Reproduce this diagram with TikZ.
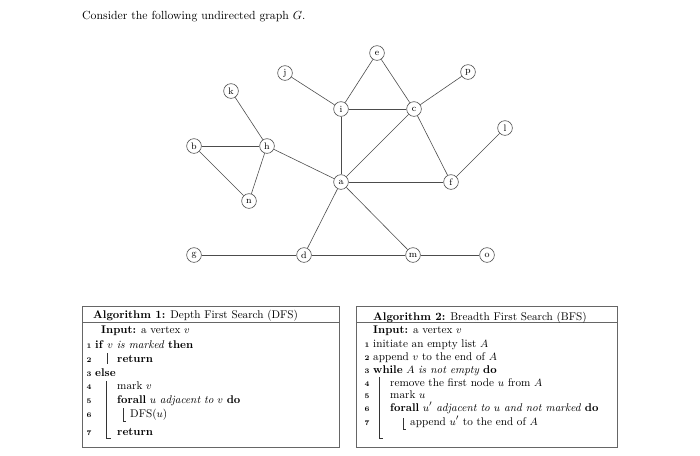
\documentclass[tikz,border=0pt]{standalone}
\usepackage{amsmath}
\begin{document}
\begin{tikzpicture}[x={(0.85pt,0)},y={(0,-0.85pt)},
  vert/.style={circle,draw=black!70,line width=0.5pt,inner sep=0pt,minimum size=12.5pt,font=\footnotesize},
  edge/.style={draw=black!70,line width=0.5pt},
  txt/.style={inner sep=0pt,anchor=base west,font=\normalsize},
  atxt/.style={inner sep=0pt,anchor=base west,font=\fontsize{9.5}{11}\selectfont},
  num/.style={inner sep=0pt,anchor=base,font=\fontsize{6}{7}\selectfont\bfseries},
  algbox/.style={draw=black!60,line width=0.6pt},
  bar/.style={draw=black!80,line width=0.4pt}]
\useasboundingbox (0,0) rectangle (700,455);
% title
\node[txt] (title) at (82,19) {Consider the following undirected graph $G$.};
% vertices
\node[vert] (e) at (377,53) {e};
\node[vert] (j) at (285,73) {j};
\node[vert] (p) at (468,72) {p};
\node[vert] (k) at (231,91) {k};
\node[vert] (i) at (341,109) {i};
\node[vert] (c) at (414,109) {c};
\node[vert] (l) at (505,128) {l};
\node[vert] (b) at (194,146) {b};
\node[vert] (h) at (267,146) {h};
\node[vert] (a) at (341,182) {a};
\node[vert] (f) at (451,182) {f};
\node[vert] (n) at (249,201) {n};
\node[vert] (g) at (194,255) {g};
\node[vert] (d) at (304,255) {d};
\node[vert] (m) at (413,255) {m};
\node[vert] (o) at (487,255) {o};
% edges
\foreach \u/\v in {j/i,k/h,b/h,b/n,h/n,h/a,i/a,i/e,i/c,e/c,c/p,c/a,c/f,a/f,f/l,a/d,a/m,g/d,d/m,m/o}
  \draw[edge] (\u) -- (\v);
% algorithm 1 box
\draw[algbox] (82,306) rectangle (339,447);
\coordinate (s1a) at (82,322);
\coordinate (s1b) at (339,322);
\draw[algbox] (s1a) -- (s1b);
\node[atxt] (h1) at (93,318) {\textbf{Algorithm 1:} Depth First Search (DFS)};
\node[atxt] (in1) at (101,333) {\textbf{Input:} a vertex $v$};
\node[num] (n11) at (89,348) {1};
\node[atxt] (l11) at (95,348) {\textbf{if} $v$ \textit{is marked} \textbf{then}};
\node[num] (n12) at (89,362) {2};
\node[atxt] (l12) at (117,362) {\textbf{return}};
\node[num] (n13) at (89,376) {3};
\node[atxt] (l13) at (95,376) {\textbf{else}};
\node[num] (n14) at (89,389) {4};
\node[atxt] (l14) at (117,389) {mark $v$};
\node[num] (n15) at (89,403) {5};
\node[atxt] (l15) at (117,403) {\textbf{forall} $u$ \textit{adjacent to} $v$ \textbf{do}};
\node[num] (n16) at (89,417) {6};
\node[atxt] (l16) at (130,417) {DFS($u$)};
\node[num] (n17) at (89,435) {7};
\node[atxt] (l17) at (117,435) {\textbf{return}};
\draw[bar] (107,353) -- (107,364);
\draw[bar] (106,381) -- (106,438) -- (111,438);
\draw[bar] (123,408) -- (123,421) -- (126,421);
% algorithm 2 box
\draw[algbox] (356,306) rectangle (617,447);
\coordinate (s2a) at (356,322);
\coordinate (s2b) at (617,322);
\draw[algbox] (s2a) -- (s2b);
\node[atxt] (h2) at (373,320) {\textbf{Algorithm 2:} Breadth First Search (BFS)};
\node[atxt] (in2) at (373,333) {\textbf{Input:} a vertex $v$};
\node[num] (n21) at (367,347) {1};
\node[atxt] (l21) at (373,347) {initiate an empty list $A$};
\node[num] (n22) at (367,360) {2};
\node[atxt] (l22) at (373,360) {append $v$ to the end of $A$};
\node[num] (n23) at (367,373) {3};
\node[atxt] (l23) at (373,373) {\textbf{while} $A$ \textit{is not empty} \textbf{do}};
\node[num] (n24) at (367,386) {4};
\node[atxt] (l24) at (390,386) {remove the first node $u$ from $A$};
\node[num] (n25) at (367,398) {5};
\node[atxt] (l25) at (390,398) {mark $u$};
\node[num] (n26) at (367,411) {6};
\node[atxt] (l26) at (390,411) {\textbf{forall} $u'$ \textit{adjacent to $u$ and not marked} \textbf{do}};
\node[num] (n27) at (367,425) {7};
\node[atxt] (l27) at (410,425) {append $u'$ to the end of $A$};
\draw[bar] (379,377) -- (379,438) -- (383,438);
\draw[bar] (403,418) -- (403,429) -- (406,429);
\end{tikzpicture}
\end{document}
